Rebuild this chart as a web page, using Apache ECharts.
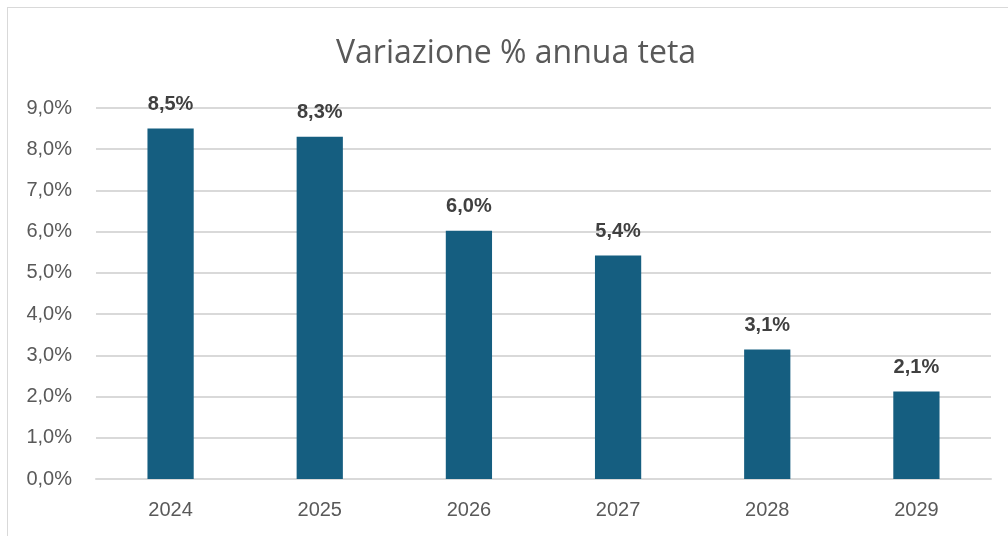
<!DOCTYPE html>
<html>
<head>
<meta charset="utf-8">
<script src="https://cdn.jsdelivr.net/npm/echarts@6/dist/echarts.min.js"></script>
<style>
  html, body { margin: 0; padding: 0; background: #fff; overflow: hidden; }
  #frame { position: absolute; left: 7px; top: 7px; width: 1010px; height: 540px; border: 1px solid #d9d9d9; box-sizing: border-box; }
  #chart { position: absolute; left: 0; top: 0; width: 1008px; height: 536px; }
</style>
</head>
<body>
<div id="frame"></div>
<div id="chart"></div>
<script>
  var years = ["2024", "2025", "2026", "2027", "2028", "2029"];
  var variazione = [8.5, 8.3, 6.02, 5.42, 3.14, 2.12];

  function pct(v) {
    return v.toFixed(1).replace(".", ",") + "%";
  }

  var chart = echarts.init(document.getElementById("chart"));

  var option = {
    animation: false,
    title: {
      text: "Variazione % annua teta",
      left: 331,
      top: 33,
      textStyle: { fontFamily: "Open Sans", fontSize: 32, fontWeight: "normal", color: "#595959" }
    },
    grid: { left: 96, right: 17, top: 108, bottom: 57, containLabel: false },
    xAxis: {
      type: "category",
      data: years,
      axisLine: { lineStyle: { color: "#d9d9d9", width: 2 } },
      axisTick: { show: false },
      axisLabel: { margin: 21, fontFamily: "Liberation Sans", fontSize: 20, color: "#595959" }
    },
    yAxis: {
      type: "value",
      min: 0,
      max: 9,
      interval: 1,
      axisLine: { show: false },
      axisTick: { show: false },
      splitLine: { lineStyle: { color: "#d9d9d9", width: 2 } },
      axisLabel: { margin: 24, fontFamily: "Liberation Sans", fontSize: 20, color: "#595959", formatter: pct }
    },
    series: [
      {
        type: "bar",
        data: variazione,
        barWidth: "31%",
        itemStyle: { color: "#155e80" },
        label: {
          show: true,
          position: "top",
          distance: 14,
          fontFamily: "Liberation Sans",
          fontSize: 20,
          fontWeight: "bold",
          color: "#404040",
          formatter: function (p) { return pct(p.value); }
        }
      }
    ]
  };

  chart.setOption(option);
</script>
</body>
</html>
